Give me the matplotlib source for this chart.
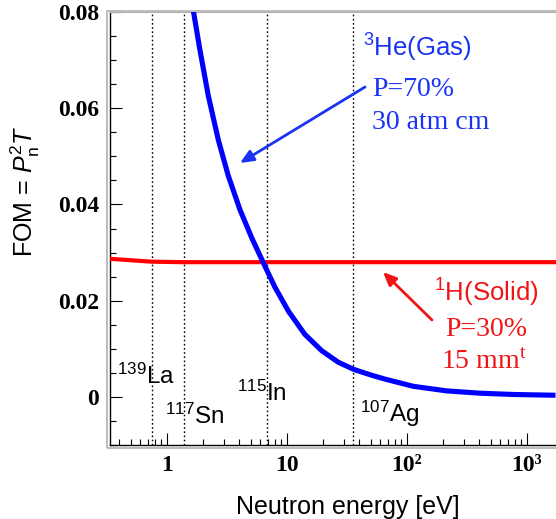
import numpy as np
import matplotlib
matplotlib.use("Agg")
import matplotlib.pyplot as plt
from matplotlib.ticker import FixedLocator, FixedFormatter, LogLocator, MultipleLocator, NullFormatter

plt.rcParams["mathtext.fontset"] = "custom"
plt.rcParams["mathtext.rm"] = "Liberation Serif"
plt.rcParams["mathtext.sf"] = "Liberation Sans"
plt.rcParams["mathtext.it"] = "Liberation Sans:italic"
plt.rcParams["mathtext.bf"] = "Liberation Serif:bold"

# 3He (gas) FOM curve
he_energy = [1.64, 1.88, 2.21, 2.68, 3.24, 4.06, 5.08, 6.35, 7.94, 10.3, 14.1,
             19.5, 26.8, 36.2, 50.8, 65.6, 113, 214, 405, 769, 1650]
he_fom = [0.0810, 0.0722, 0.0626, 0.0534, 0.0460, 0.0389, 0.0331, 0.0279, 0.0228,
          0.0178, 0.0130, 0.0096, 0.0072, 0.0057, 0.0045, 0.0037, 0.0022, 0.00125,
          0.00077, 0.00050, 0.00035]

# 1H (solid) FOM, nearly flat
h_energy = [0.335, 0.5, 0.75, 1.35, 3, 10, 100, 1750]
h_fom = [0.0287, 0.0284, 0.0281, 0.0280, 0.0280, 0.0280, 0.0280, 0.0280]

# resonance markers
res_energy = [0.75, 1.39, 6.8, 35.7]
res_labels = [r"$\mathsf{^{139}}$La", r"$\mathsf{^{117}}$Sn", r"$\mathsf{^{115}}$In", r"$\mathsf{^{107}}$Ag"]

xticks = [1, 10, 100, 1000]
xticklabels = ["1", "10", "10²", "10³"]
yticks = [0, 0.02, 0.04, 0.06, 0.08]
yticklabels = ["0", "0.02", "0.04", "0.06", "0.08"]

W, H = 556, 519
fig = plt.figure(figsize=(W / 100, H / 100), dpi=100)
ax = fig.add_axes([110 / W, 1 - 445 / H, 446 / W, 433 / H])


def px(x, y):
    # figure pixel coords measured from the top-left corner
    return (x, H - y)


# gray outer frame
fig.add_artist(plt.Rectangle((107 / W, 1 - 448 / H), 460 / W, 437 / H,
                             transform=fig.transFigure, fill=False,
                             edgecolor="#b0b0b0", lw=1.2))

for e in res_energy:
    ax.axvline(e, color="black", ls=(0, (1.2, 1.8)), lw=1.0, zorder=1)

ax.plot(h_energy, h_fom, color="#ff0000", lw=3.0, zorder=3, solid_joinstyle="round")
ax.plot(he_energy, he_fom, color="#0000ff", lw=3.7, zorder=4, solid_joinstyle="round")

ax.set_xscale("log")
ax.set_xlim(0.335, 1750)
ax.set_ylim(-0.01, 0.08)

ax.xaxis.set_major_locator(FixedLocator(xticks))
ax.xaxis.set_major_formatter(FixedFormatter(xticklabels))
ax.xaxis.set_minor_locator(LogLocator(base=10, subs=np.arange(2, 10)))
ax.xaxis.set_minor_formatter(NullFormatter())
ax.yaxis.set_major_locator(FixedLocator(yticks))
ax.yaxis.set_major_formatter(FixedFormatter(yticklabels))
ax.yaxis.set_minor_locator(MultipleLocator(0.005))

ax.tick_params(which="both", direction="in", top=False, right=False, width=0.8)
ax.tick_params(which="major", length=8.5)
ax.tick_params(which="minor", length=4.3)
ax.tick_params(axis="x", pad=7)
ax.tick_params(axis="y", pad=8)
for lab in ax.get_xticklabels() + ax.get_yticklabels():
    lab.set_family("Liberation Serif")
    lab.set_weight("bold")
    lab.set_fontsize(17)

for s in ["left", "bottom"]:
    ax.spines[s].set_color("black")
    ax.spines[s].set_linewidth(1.0)
ax.spines["top"].set_color("#b0b0b0")
ax.spines["right"].set_visible(False)

# axis titles
fig.text(348 / W, 1 - 507 / H, "Neutron energy [eV]", family="Liberation Sans",
         fontsize=18, ha="center", va="center")
fig.text(25 / W, 1 - 191 / H, r"FOM = $P^{\mathsf{2}}_{\mathsf{n}}T$", family="Liberation Sans",
         fontsize=18, rotation=90, ha="center", va="center")

# resonance labels
lab_pos = [(117, 376), (165, 416), (237, 393), (360, 414)]
for (x, y), t in zip(lab_pos, res_labels):
    fig.text(x / W, 1 - y / H, t, family="Liberation Sans", fontsize=17.5,
             ha="left", va="center")

blue_txt = "#1a33f2"
red_txt = "#f01414"
fig.text(363 / W, 1 - 48 / H, r"$\mathsf{^3}$He(Gas)", family="Liberation Sans",
         fontsize=18.5, color=blue_txt, ha="left", va="center")
fig.text(372 / W, 1 - 90 / H, "P=70%", family="Liberation Serif",
         fontsize=20, color=blue_txt, ha="left", va="center")
fig.text(372 / W, 1 - 123 / H, "30 atm cm", family="Liberation Serif",
         fontsize=20, color=blue_txt, ha="left", va="center")

fig.text(486 / W, 1 - 293 / H, r"$\mathsf{^1}$H(Solid)", family="Liberation Sans",
         fontsize=18.5, color=red_txt, ha="center", va="center")
fig.text(486 / W, 1 - 330 / H, "P=30%", family="Liberation Serif",
         fontsize=20, color=red_txt, ha="center", va="center")
fig.text(484 / W, 1 - 362 / H, r"15 mm$^{\mathrm{t}}$", family="Liberation Serif",
         fontsize=20, color=red_txt, ha="center", va="center")

# arrows
ax.annotate("", xy=px(240, 163), xycoords="figure pixels",
            xytext=px(365, 87), textcoords="figure pixels",
            arrowprops=dict(arrowstyle="-|>,head_length=0.8,head_width=0.35",
                            color=blue_txt, lw=2.0, shrinkA=0, shrinkB=0))
ax.annotate("", xy=px(383, 272), xycoords="figure pixels",
            xytext=px(432, 320), textcoords="figure pixels",
            arrowprops=dict(arrowstyle="-|>,head_length=0.8,head_width=0.35",
                            color=red_txt, lw=2.0, shrinkA=0, shrinkB=0))

fig.savefig("out.png", dpi=100)
